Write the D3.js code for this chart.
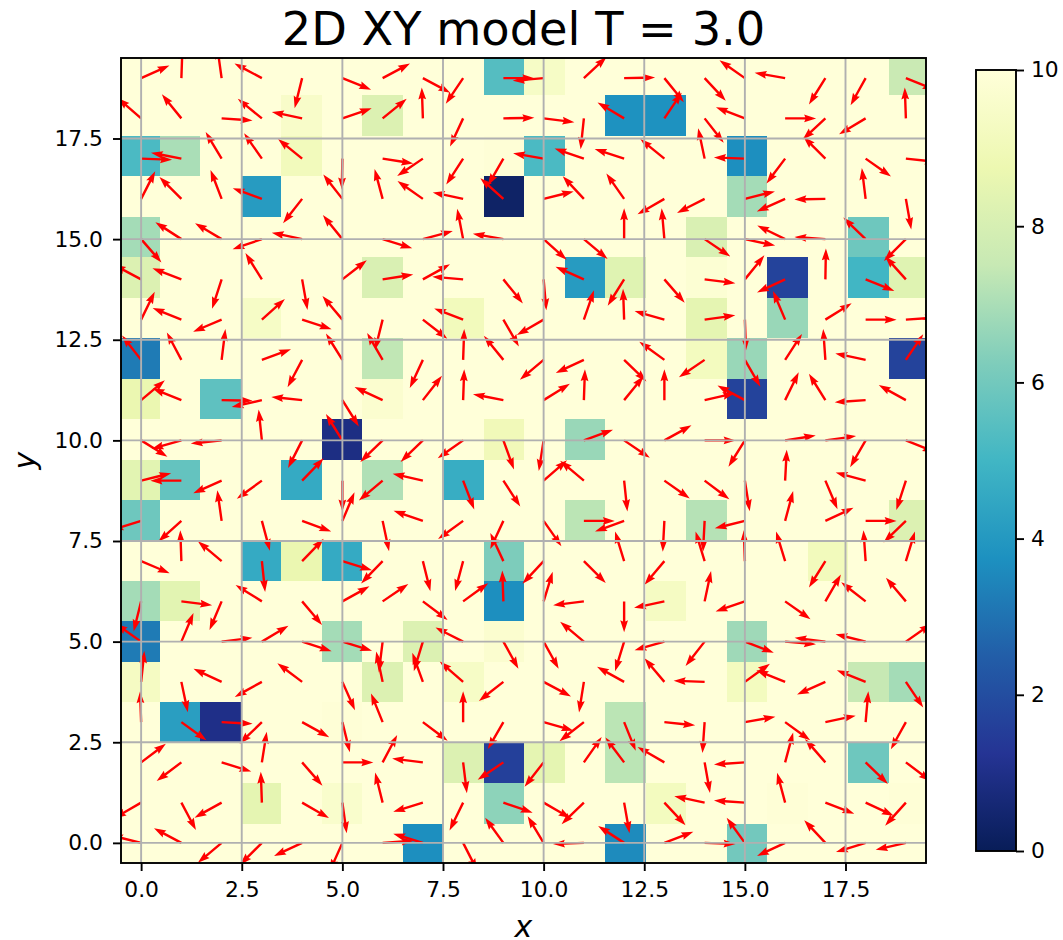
<!DOCTYPE html>
<html>
<head>
<meta charset="utf-8">
<script src="https://cdnjs.cloudflare.com/ajax/libs/d3/7.8.5/d3.min.js"></script>
<style>
html, body { margin: 0; padding: 0; background: #fff; }
svg { display: block; }
text { font-family: "DejaVu Sans", sans-serif; fill: #000; }
</style>
</head>
<body>
<div id="canvax"></div>
<script>
var titleText = "2D XY model T = 3.0";

// both grids are listed from the top row (y = 19) down to y = 0
var rowLabels = d3.range(19, -1, -1);
var columnLabels = d3.range(0, 20);

var tickValues = [0, 2.5, 5, 7.5, 10, 12.5, 15, 17.5];
var colorbarTicks = [0, 2, 4, 6, 8, 10];

// YlGnBu_r
var colorStops = ["#081d58", "#253494", "#225ea8", "#1d91c0", "#41b6c4", "#7fcdbb", "#c7e9b4", "#edf8b1", "#ffffd9"];

// background field per lattice site
var field = [
  [10,10,10,10,10,10,10,10,10,5.4,9.4,10,10,10,10,10,10,10,10,7.6],
  [10,10,10,10,9.5,10,8.2,10,10,10,10,10,3.8,3.8,10,10,10,10,10,10],
  [5.2,7.0,10,10,9.1,10,10,10,10,9.9,5.2,10,10,10,10,3.7,10,10,10,10],
  [10,10,10,4.1,10,10,10,10,10,0.3,10,10,10,10,10,6.9,10,10,10,10],
  [6.9,10,10,10,10,10,10,10,10,10,10,10,10,10,8.1,10,10,10,5.9,10],
  [8.2,10,10,10,10,10,8.1,10,10,10,10,4.1,8.3,10,9.8,10,1.7,10,5.0,8.3],
  [10,10,10,9.4,10,10,10,10,9.1,10,10,10,10,10,8.5,10,6.7,10,10,10],
  [3.2,10,10,10,10,10,7.4,10,10,10,10,10,10,10,9.2,6.7,10,10,10,1.7],
  [8.7,10,5.6,10,10,10,9.7,10,10,10,10,10,10,10,10,1.7,10,10,10,10],
  [10,10,10,10,10,0.9,10,10,10,9.0,10,6.7,10,10,10,10,10,10,10,10],
  [8.4,5.7,10,10,4.6,10,7.1,10,4.7,10,10,10,10,10,10,10,10,10,10,10],
  [5.9,10,10,10,10,10,10,10,10,10,10,7.3,10,10,7.2,10,10,10,10,8.2],
  [10,10,10,4.6,8.7,4.6,10,10,10,6.2,10,10,10,10,10,10,10,9.1,10,10],
  [6.9,8.4,10,10,10,10,10,10,10,3.7,10,10,10,9.3,10,10,10,10,10,10],
  [3.2,10,10,10,10,6.9,10,8.2,10,9.7,10,10,10,10,10,6.8,10,10,10,10],
  [9.3,10,10,10,10,10,8.2,10,9.4,10,10,10,10,10,10,9.2,10,10,7.5,6.9],
  [10,4.2,1.0,10,10,9.9,10,10,10,10,10,10,7.3,10,10,10,10,10,10,10],
  [10,10,10,10,10,10,10,10,8.2,1.6,8.5,10,7.3,10,10,10,10,10,5.9,10],
  [10,10,10,8.5,10,9.6,10,10,10,6.5,10,10,10,9.2,10,10,9.9,10,10,9.9],
  [10,10,10,10,10,10,10,3.7,10,10,10,10,3.6,10,10,6.0,10,10,10,10]
];

// spin direction per lattice site, degrees counter-clockwise from +x
var spinAngle = [
  [24,88,98,152,256,-22,28,-28,236,0,185,43,1,-51,-47,145,170,238,241,-22],
  [139,129,-4,141,168,19,39,92,245,1,-7,264,149,56,-52,159,0,223,211,92],
  [-2,169,121,125,141,269,-9,214,237,240,170,161,162,141,102,178,233,135,-35,-6],
  [63,135,111,160,232,128,105,145,168,138,14,133,125,210,207,14,204,181,97,-80],
  [-49,147,149,199,168,129,-17,15,101,170,-42,-40,90,95,-34,-12,154,176,136,225],
  [152,159,252,122,-80,38,9,29,175,-51,-85,156,238,-49,-7,51,205,89,-22,132],
  [64,158,203,42,-18,130,256,-38,159,-60,210,71,92,164,8,-88,113,32,0,4],
  [128,118,83,20,242,122,120,245,88,129,220,205,-44,144,214,-60,57,94,168,56],
  [40,158,-1,193,174,-58,155,52,88,169,32,88,51,90,13,152,64,122,184,151],
  [-32,196,186,96,243,122,224,224,215,-70,261,20,-34,29,0,238,9,8,240,-22],
  [14,180,204,216,46,270,220,167,-69,-57,41,140,-84,-35,-37,-81,87,-67,165,252],
  [197,222,98,-75,-20,67,-78,161,216,245,-55,0,200,267,267,194,75,25,0,224],
  [-23,92,140,-84,46,-17,226,-76,255,115,227,-45,107,230,107,92,107,238,94,73],
  [256,-7,247,148,-50,29,34,-37,36,92,73,187,270,192,78,199,-35,60,142,130],
  [145,67,7,31,-18,-17,263,253,153,-61,-61,140,253,196,232,-21,-5,173,166,35],
  [84,-78,155,209,143,-66,102,110,139,218,-28,261,151,130,178,36,158,204,158,-56],
  [92,-36,-3,224,-29,-76,112,-37,90,240,-16,218,-68,-6,266,10,-36,12,85,241],
  [37,217,-17,81,-49,0,62,173,-83,214,232,55,127,150,-80,184,75,131,-44,-37],
  [210,-62,209,92,-30,-82,104,197,244,-19,-30,224,-80,-47,168,176,105,-21,-25,228],
  [166,152,220,225,205,246,4,163,-63,126,121,182,147,21,-2,126,205,133,197,193]
];

var width = 1063;
var height = 940;
var margin = {left:121, right:137, top:58, bottom:77};
var spinLength = 0.77;
var tickFont = 21.8;

var svg = d3.select("#canvax").append("svg")
    .attr("width", width)
    .attr("height", height);

var x = d3.scaleLinear().domain([-0.5, 19.5]).range([margin.left, width - margin.right]);
var y = d3.scaleLinear().domain([-0.5, 19.5]).range([height - margin.bottom, margin.top]);

// the image overshoots the axes by a couple of pixels in the original
var xCell = d3.scaleLinear().domain([-0.5, 19.5]).range([119.5, 929]);
var yCell = d3.scaleLinear().domain([-0.5, 19.5]).range([864, 55]);

var color = d3.scaleLinear()
    .domain(colorStops.map(function(d,i){ return i*10/(colorStops.length-1); }))
    .range(colorStops);

svg.append("clipPath").attr("id","plotArea").append("rect")
    .attr("x", x(-0.5))
    .attr("y", y(19.5))
    .attr("width", x(19.5)-x(-0.5))
    .attr("height", y(-0.5)-y(19.5));

// flatten the two grids into one row per site
var sites = [];
rowLabels.forEach(function(row, r){
  columnLabels.forEach(function(col, c){
    sites.push({col:col, row:row, value:field[r][c], angle:spinAngle[r][c]});
  });
});

var plot = svg.append("g").attr("clip-path","url(#plotArea)");

plot.selectAll("rect.cell")
    .data(sites)
    .enter().append("rect")
      .attr("class","cell")
      .attr("x", function(d){ return xCell(d.col-0.5); })
      .attr("y", function(d){ return yCell(d.row+0.5); })
      .attr("width", xCell(1)-xCell(0))
      .attr("height", yCell(0)-yCell(1))
      .attr("shape-rendering","crispEdges")
      .attr("fill", function(d){ return color(d.value); });

// quiver style arrow along +x, tail at the origin
var L = x(spinLength)-x(0);
var shaft = 1.2, headW = 3.9, headL = 12, headA = 10.8;
var arrowPath = "M0," + (-shaft) + "L" + (L-headA) + "," + (-shaft) + "L" + (L-headL) + "," + (-headW)
    + "L" + L + ",0L" + (L-headL) + "," + headW + "L" + (L-headA) + "," + shaft + "L0," + shaft + "Z";

plot.selectAll("path.spin")
    .data(sites)
    .enter().append("path")
      .attr("class","spin")
      .attr("d", arrowPath)
      .attr("fill","#ff0000")
      .attr("transform", function(d){ return "translate(" + x(d.col) + "," + y(d.row) + ") rotate(" + (-d.angle) + ")"; });

// grid sits over the arrows
var grid = svg.append("g").attr("stroke","#b0b0b0").attr("stroke-width",1.9);
grid.selectAll("line.gx")
    .data(tickValues)
    .enter().append("line")
      .attr("class","gx")
      .attr("x1", function(d){ return x(d); })
      .attr("x2", function(d){ return x(d); })
      .attr("y1", y(-0.5))
      .attr("y2", y(19.5));
grid.selectAll("line.gy")
    .data(tickValues)
    .enter().append("line")
      .attr("class","gy")
      .attr("y1", function(d){ return y(d); })
      .attr("y2", function(d){ return y(d); })
      .attr("x1", x(-0.5))
      .attr("x2", x(19.5));

var xAxis = d3.axisBottom(x).tickValues(tickValues).tickFormat(d3.format(".1f")).tickSize(8).tickPadding(10.5).tickSizeOuter(0);
var yAxis = d3.axisLeft(y).tickValues(tickValues).tickFormat(d3.format(".1f")).tickSize(8).tickPadding(10).tickSizeOuter(0);

svg.append("g")
    .attr("transform","translate(0," + y(-0.5) + ")")
    .call(xAxis);
svg.append("g")
    .attr("transform","translate(" + x(-0.5) + ",0)")
    .call(yAxis);

svg.selectAll(".tick line").attr("stroke","#000").attr("stroke-width",1.9);
svg.selectAll(".tick text").attr("font-size",tickFont).attr("font-family","DejaVu Sans");
svg.selectAll(".domain").remove();

svg.append("rect")
    .attr("x", x(-0.5))
    .attr("y", y(19.5))
    .attr("width", x(19.5)-x(-0.5))
    .attr("height", y(-0.5)-y(19.5))
    .attr("fill","none")
    .attr("stroke","#000")
    .attr("stroke-width",1.9);

svg.append("text")
    .attr("x", (x(-0.5)+x(19.5))/2)
    .attr("y", 45)
    .attr("text-anchor","middle")
    .attr("font-size",46.3)
    .text(titleText);

svg.append("text")
    .attr("x", (x(-0.5)+x(19.5))/2)
    .attr("y", 937)
    .attr("text-anchor","middle")
    .attr("font-size",30)
    .attr("font-style","italic")
    .text("x");

svg.append("text")
    .attr("transform","translate(35," + (y(-0.5)+y(19.5))/2 + ") rotate(-90)")
    .attr("text-anchor","middle")
    .attr("font-size",30)
    .attr("font-style","italic")
    .text("y");

// colorbar
var barLeft = 976, barWidth = 40;
var cy = d3.scaleLinear().domain([0, 10]).range([851, 70]);

var grad = svg.append("defs").append("linearGradient")
    .attr("id","barGradient")
    .attr("x1",0).attr("x2",0).attr("y1",1).attr("y2",0);
grad.selectAll("stop")
    .data(colorStops)
    .enter().append("stop")
      .attr("offset", function(d,i){ return i/(colorStops.length-1); })
      .attr("stop-color", function(d){ return d; });

svg.append("rect")
    .attr("x", barLeft)
    .attr("y", cy(10))
    .attr("width", barWidth)
    .attr("height", cy(0)-cy(10))
    .attr("fill","url(#barGradient)")
    .attr("stroke","#000")
    .attr("stroke-width",1.9);

var barAxis = d3.axisRight(cy).tickValues(colorbarTicks).tickFormat(d3.format("d")).tickSize(8).tickPadding(7).tickSizeOuter(0);
var barG = svg.append("g")
    .attr("transform","translate(" + (barLeft+barWidth) + ",0)")
    .call(barAxis);
barG.select(".domain").remove();
barG.selectAll(".tick line").attr("stroke","#000").attr("stroke-width",1.9);
barG.selectAll(".tick text").attr("font-size",tickFont).attr("font-family","DejaVu Sans");
</script>
</body>
</html>
